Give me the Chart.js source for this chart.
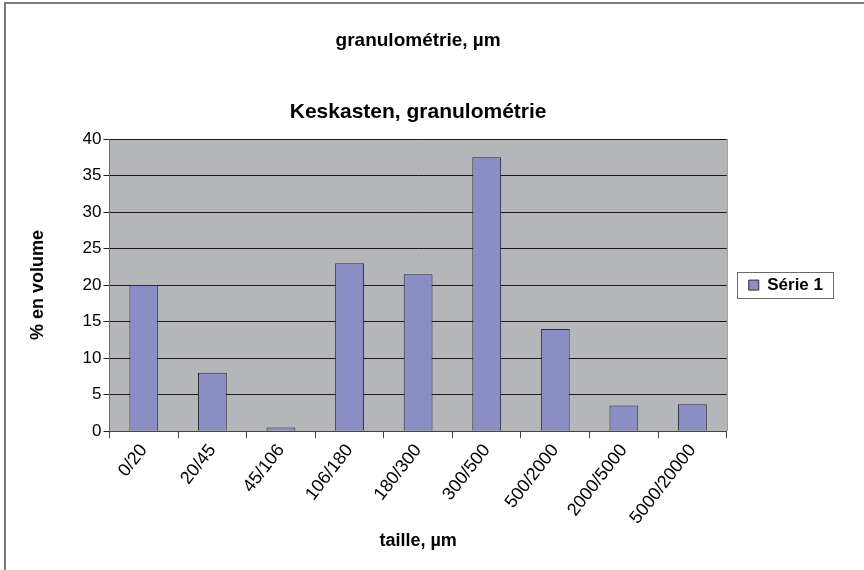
<!DOCTYPE html>
<html>
<head>
<meta charset="utf-8">
<script src="https://cdn.jsdelivr.net/npm/chart.js@4"></script>
<style>
  html, body { margin: 0; padding: 0; background: #fff; }
  #wrap { width: 864px; height: 570px; }
</style>
</head>
<body>
<div id="wrap"><canvas id="granuloChart" width="864" height="570"></canvas></div>
<script>
// données
const classes = ['0/20', '20/45', '45/106', '106/180', '180/300', '300/500', '500/2000', '2000/5000', '5000/20000']
const serie1 = [20, 8, 0.5, 23, 21.5, 37.5, 14, 3.5, 3.7]
const yTicks = [0, 5, 10, 15, 20, 25, 30, 35, 40]

const FONT = "'Liberation Sans', Arial, sans-serif"

// fond gris de la zone de tracé + cadre extérieur + cadre de la légende
const decor = {
  id: 'decor',
  beforeDraw(chart) {
    const { ctx, chartArea: a } = chart
    ctx.save()
    ctx.fillStyle = '#b5b6b9'
    ctx.fillRect(a.left, a.top, a.right - a.left, a.bottom - a.top)
    ctx.strokeStyle = '#808080'
    ctx.lineWidth = 1
    ctx.beginPath()
    ctx.moveTo(a.right + 0.5, a.top)
    ctx.lineTo(a.right + 0.5, a.bottom)
    ctx.stroke()
    ctx.restore()
  },
  afterDraw(chart) {
    const { ctx } = chart
    ctx.save()
    // cadre extérieur (haut et gauche seulement)
    ctx.strokeStyle = '#7a7a7a'
    ctx.lineWidth = 2
    ctx.beginPath()
    ctx.moveTo(5, 570)
    ctx.lineTo(5, 3)
    ctx.lineTo(864, 3)
    ctx.stroke()
    // cadre de la légende
    const hb = chart.legend.legendHitBoxes[0]
    if (hb) {
      const cy = Math.round(hb.top + hb.height / 2)
      const x0 = Math.round(hb.left) - 11.5
      const x1 = Math.round(hb.left + hb.width) + 10.5
      ctx.strokeStyle = '#6a6a6a'
      ctx.lineWidth = 1
      ctx.strokeRect(x0, cy - 12.5, x1 - x0, 26)
    }
    ctx.restore()
  }
}

const ctx = document.getElementById('granuloChart').getContext('2d')

new Chart(ctx, {
  type: 'bar',
  data: {
    labels: classes,
    datasets: [{
      label: 'Série 1',
      data: serie1,
      backgroundColor: '#8b8ec5',
      borderColor: '#2b2b33',
      borderWidth: 1,
      barPercentage: 0.42,
      categoryPercentage: 1
    }]
  },
  plugins: [decor],
  options: {
    responsive: false,
    animation: false,
    devicePixelRatio: 1,
    layout: { padding: { left: 20, right: 31, top: 0, bottom: 18 } },
    scales: {
      y: {
        min: 0,
        max: 40,
        afterBuildTicks(scale) { scale.ticks = yTicks.map(v => ({ value: v })) },
        grid: { color: '#1a1a1a', lineWidth: 1, tickLength: 6, drawTicks: true },
        border: { color: '#6a6a6a' },
        ticks: { color: '#000', font: { family: FONT, size: 17 }, padding: 2 },
        title: { display: true, text: '% en volume', color: '#000', font: { family: FONT, size: 18, weight: 'bold' }, padding: { top: 7, bottom: 32 } }
      },
      x: {
        grid: { drawOnChartArea: false, color: '#444', tickLength: 7 },
        border: { color: '#444' },
        ticks: { color: '#000', font: { family: FONT, size: 18 }, minRotation: 52, maxRotation: 52, padding: 2 },
        title: { display: true, text: 'taille, µm', color: '#000', font: { family: FONT, size: 18, weight: 'bold' }, padding: { top: 0, bottom: 0 } }
      }
    },
    plugins: {
      title: {
        display: true,
        fullSize: false,
        text: 'granulométrie, µm',
        color: '#000',
        font: { family: FONT, size: 19, weight: 'bold' },
        padding: { top: 29, bottom: 0 }
      },
      subtitle: {
        display: true,
        fullSize: false,
        text: 'Keskasten, granulométrie',
        color: '#000',
        font: { family: FONT, size: 21, weight: 'bold' },
        padding: { top: 48, bottom: 14 }
      },
      legend: {
        position: 'right',
        fullSize: false,
        labels: {
          color: '#000',
          font: { family: FONT, size: 17, weight: 'bold' },
          boxWidth: 10,
          boxHeight: 10,
          padding: 22
        }
      },
      tooltip: { enabled: false }
    }
  }
})
</script>
</body>
</html>
